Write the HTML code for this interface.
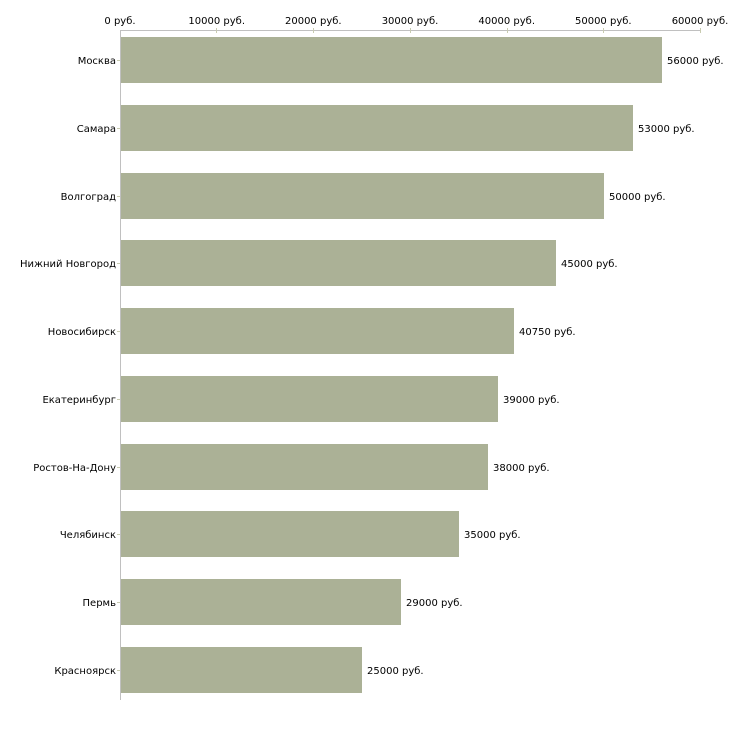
<!DOCTYPE html>
<html><head><meta charset="utf-8"><style>
html,body{margin:0;padding:0;background:#fff;}
svg{display:block;font-family:"DejaVu Sans","Liberation Sans",sans-serif;font-size:10px;fill:#000;}
</style></head><body>
<svg width="730" height="730" viewBox="0 0 730 730" xmlns="http://www.w3.org/2000/svg">
<g stroke="#c0c0c0" stroke-width="1" fill="none">
<line x1="120.5" y1="30.5" x2="700" y2="30.5"/>
<line x1="120.5" y1="30" x2="120.5" y2="700"/>
</g>
<g stroke="#c8cbb0" stroke-width="1">
<line x1="216.5" y1="28" x2="216.5" y2="33"/>
<line x1="313.5" y1="28" x2="313.5" y2="33"/>
<line x1="410.5" y1="28" x2="410.5" y2="33"/>
<line x1="507.5" y1="28" x2="507.5" y2="33"/>
<line x1="603.5" y1="28" x2="603.5" y2="33"/>
<line x1="700.5" y1="28" x2="700.5" y2="33"/>
</g>
<g text-anchor="middle">
<text x="120" y="24">0 руб.</text>
<text x="216.7" y="24">10000 руб.</text>
<text x="313.3" y="24">20000 руб.</text>
<text x="410" y="24">30000 руб.</text>
<text x="506.7" y="24">40000 руб.</text>
<text x="603.3" y="24">50000 руб.</text>
<text x="700" y="24">60000 руб.</text>
</g>
<g fill="#abb196">
<rect x="121" y="37" width="541" height="46"/>
<rect x="121" y="105" width="512" height="46"/>
<rect x="121" y="173" width="483" height="46"/>
<rect x="121" y="240" width="435" height="46"/>
<rect x="121" y="308" width="393" height="46"/>
<rect x="121" y="376" width="377" height="46"/>
<rect x="121" y="444" width="367" height="46"/>
<rect x="121" y="511" width="338" height="46"/>
<rect x="121" y="579" width="280" height="46"/>
<rect x="121" y="647" width="241" height="46"/>
</g>
<g stroke="#c8cbb0">
<line x1="117" y1="60.5" x2="120" y2="60.5"/>
<line x1="117" y1="128.5" x2="120" y2="128.5"/>
<line x1="117" y1="196.5" x2="120" y2="196.5"/>
<line x1="117" y1="263.5" x2="120" y2="263.5"/>
<line x1="117" y1="331.5" x2="120" y2="331.5"/>
<line x1="117" y1="399.5" x2="120" y2="399.5"/>
<line x1="117" y1="467.5" x2="120" y2="467.5"/>
<line x1="117" y1="534.5" x2="120" y2="534.5"/>
<line x1="117" y1="602.5" x2="120" y2="602.5"/>
<line x1="117" y1="670.5" x2="120" y2="670.5"/>
</g>
<g text-anchor="end">
<text x="116" y="64">Москва</text>
<text x="116" y="132">Самара</text>
<text x="116" y="200">Волгоград</text>
<text x="116" y="267">Нижний Новгород</text>
<text x="116" y="335">Новосибирск</text>
<text x="116" y="403">Екатеринбург</text>
<text x="116" y="471">Ростов-На-Дону</text>
<text x="116" y="538">Челябинск</text>
<text x="116" y="606">Пермь</text>
<text x="116" y="674">Красноярск</text>
</g>
<g>
<text x="667" y="64">56000 руб.</text>
<text x="638" y="132">53000 руб.</text>
<text x="609" y="200">50000 руб.</text>
<text x="561" y="267">45000 руб.</text>
<text x="519" y="335">40750 руб.</text>
<text x="503" y="403">39000 руб.</text>
<text x="493" y="471">38000 руб.</text>
<text x="464" y="538">35000 руб.</text>
<text x="406" y="606">29000 руб.</text>
<text x="367" y="674">25000 руб.</text>
</g>
</svg>
</body></html>
